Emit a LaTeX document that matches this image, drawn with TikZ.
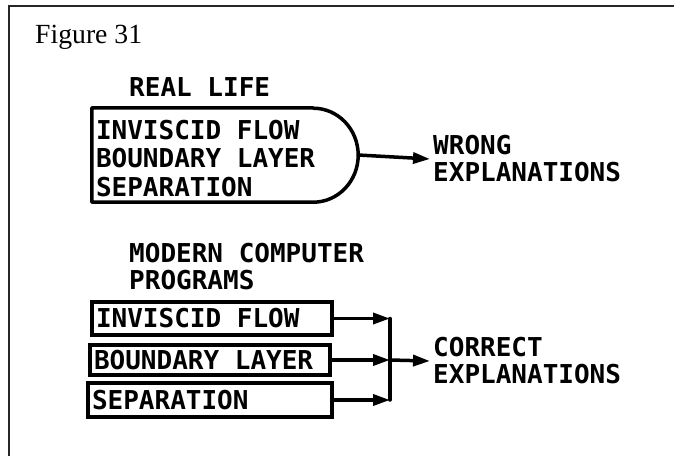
\documentclass[tikz,border=0pt]{standalone}
\usepackage{fontspec}
\usetikzlibrary{arrows.meta}
\newfontfamily\plotfont{DejaVu Sans Mono}
\newfontfamily\figfont{Liberation Serif}
\newcommand{\boxline}[2]{\makebox[#1][l]{#2}}
\begin{document}
\begin{tikzpicture}[x=1pt,y=-1pt,
  framestyle/.style={line width=1.4pt, draw=black!85},
  figlabel/.style={font=\figfont\fontsize{27.7}{32}\selectfont, inner sep=0pt},
  plot/.style={font=\plotfont\bfseries\fontsize{26}{27}\selectfont, inner sep=0pt},
  boxtext/.style={plot, font=\plotfont\bfseries\fontsize{26}{28.5}\selectfont, align=left, inner sep=0pt},
  sbox/.style={plot, draw, line width=3.5pt, inner xsep=4pt, inner ysep=0pt},
  outline/.style={line width=3.5pt, line join=round},
  conn/.style={line width=3.5pt, -{Triangle[length=17pt,width=11pt]}},
  bus/.style={line width=3.5pt, line cap=round}]
\useasboundingbox (0,0) rectangle (674,456);
\draw[framestyle] (674,6) -- (9,6) -- (9,456);
\node[figlabel, anchor=base west] (title) at (35,43) {Figure 31};

% Real life
\node[plot, anchor=base west] (reallife) at (129,96) {REAL LIFE};
\node[minimum width=266pt, minimum height=94pt, inner sep=0pt] (real) at (225,155) {};
\node[boxtext, anchor=west] (realtxt) at ([xshift=4pt,yshift=-3.5pt]real.west)
  {INVISCID FLOW\\BOUNDARY LAYER\\SEPARATION};
\draw[outline] ([xshift=-45pt]real.north east) -- (real.north west) -- (real.south west)
  -- ([xshift=-45pt]real.south east)
  arc[start angle=-90, end angle=90, x radius=45pt, y radius=47pt] -- cycle;
\node[plot, align=left, anchor=west, inner sep=3pt] (wrong) at (430,159) {WRONG\\EXPLANATIONS};
\draw[conn] (real.east) -- (wrong.west);

% Modern computer programs
\node[plot, align=left, anchor=west] (modern) at (129,267) {MODERN COMPUTER\\PROGRAMS};
\node[sbox, minimum height=33pt] (b1) at (212,318.5) {\boxline{232pt}{INVISCID FLOW}};
\node[sbox, minimum height=30pt] (b2) at (210,360) {\boxline{232pt}{BOUNDARY LAYER}};
\node[sbox, minimum height=34pt] (b3) at (210,400) {\boxline{236pt}{SEPARATION}};
\coordinate (bus) at (390,318);
\node[plot, align=left, anchor=west, inner sep=3pt] (correct) at (430,361) {CORRECT\\EXPLANATIONS};
\draw[conn] (b1.east) -- (b1.east -| bus);
\draw[conn] (b2.east) -- (b2.east -| bus);
\draw[conn] (b3.east) -- (b3.east -| bus);
\draw[bus] (b1.east -| bus) -- (b3.east -| bus);
\draw[conn] (b2.east -| bus) -- (correct.west);
\end{tikzpicture}
\end{document}
